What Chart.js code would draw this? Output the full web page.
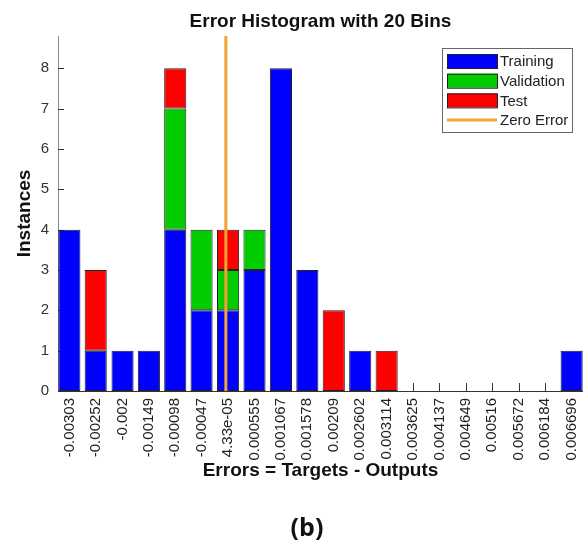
<!DOCTYPE html>
<html>
<head>
<meta charset="utf-8">
<title>Error Histogram</title>
<script src="https://cdn.jsdelivr.net/npm/chart.js@4.4.1/dist/chart.umd.min.js"></script>
<style>
	html, body { margin: 0; padding: 0; background: #fff; }
	#wrap { width: 583px; height: 547px; position: relative; }
</style>
</head>
<body>
<div id="wrap"><canvas id="main"></canvas></div>
<script>
// bin centers (error value) and the labels printed under each bin
var binCenters = [-0.00303, -0.00252, -0.002, -0.00149, -0.00098, -0.00047, 0.0000433, 0.000555, 0.001067, 0.001578,
	0.00209, 0.002602, 0.003114, 0.003625, 0.004137, 0.004649, 0.00516, 0.005672, 0.006184, 0.006696];
var tickLabels = ['-0.00303', '-0.00252', '-0.002', '-0.00149', '-0.00098', '-0.00047', '4.33e-05', '0.000555', '0.001067', '0.001578',
	'0.00209', '0.002602', '0.003114', '0.003625', '0.004137', '0.004649', '0.00516', '0.005672', '0.006184', '0.006696'];

// instances per bin
var training   = [4, 1, 1, 1, 4, 2, 2, 3, 8, 3, 0, 1, 0, 0, 0, 0, 0, 0, 0, 1];
var validation = [0, 0, 0, 0, 3, 2, 1, 1, 0, 0, 0, 0, 0, 0, 0, 0, 0, 0, 0, 0];
var test       = [0, 2, 0, 0, 1, 0, 1, 0, 0, 0, 2, 0, 1, 0, 0, 0, 0, 0, 0, 0];

var zeroError = 0;
var yTicks = [0, 1, 2, 3, 4, 5, 6, 7, 8];

var FONT = '"Liberation Sans", Arial, sans-serif';
var binStep = (binCenters[binCenters.length - 1] - binCenters[0]) / (binCenters.length - 1);

function toPoints(values){
	var pts = [];
	for (var i = 0; i < values.length; i++){
		pts.push({x: binCenters[i], y: values[i] === 0 ? null : values[i]});
	}
	return pts;
}

var legendItems = [
	{label: 'Training', color: '#0000ff', type: 'box'},
	{label: 'Validation', color: '#00cc00', type: 'box'},
	{label: 'Test', color: '#ff0000', type: 'box'},
	{label: 'Zero Error', color: '#f4a233', type: 'line'}
];

// inward tick marks (under the bars), then zero line, legend box and figure tag on top
var overlay = {
	id: 'overlay',
	beforeDatasetsDraw: function(chart){
		var ctx = chart.ctx,
			area = chart.chartArea,
			xs = chart.scales.x,
			ys = chart.scales.y;
		ctx.save();
		ctx.strokeStyle = '#333';
		ctx.lineWidth = 1;
		ctx.beginPath();
		for (var i = 0; i < yTicks.length; i++){
			var ty = Math.round(ys.getPixelForValue(yTicks[i])) + 0.5;
			ctx.moveTo(area.left, ty);
			ctx.lineTo(area.left + 6, ty);
		}
		for (var j = 0; j < binCenters.length; j++){
			var tx = Math.round(xs.getPixelForValue(binCenters[j])) + 0.5;
			ctx.moveTo(tx, area.bottom);
			ctx.lineTo(tx, area.bottom - 8);
		}
		ctx.stroke();
		ctx.restore();
	},
	afterDatasetsDraw: function(chart){
		var ctx = chart.ctx,
			area = chart.chartArea,
			xs = chart.scales.x;

		// zero error line
		var zx = xs.getPixelForValue(zeroError);
		ctx.save();
		ctx.strokeStyle = '#f4a233';
		ctx.lineWidth = 3;
		ctx.beginPath();
		ctx.moveTo(zx, area.top);
		ctx.lineTo(zx, area.bottom);
		ctx.stroke();
		ctx.restore();

		// legend
		var lx = 442, ly = 48, lw = 130, lh = 84;
		ctx.save();
		ctx.fillStyle = '#fff';
		ctx.fillRect(lx, ly, lw, lh);
		ctx.strokeStyle = '#666';
		ctx.lineWidth = 1;
		ctx.strokeRect(lx + 0.5, ly + 0.5, lw, lh);
		ctx.font = '15px ' + FONT;
		ctx.textBaseline = 'middle';
		for (var k = 0; k < legendItems.length; k++){
			var item = legendItems[k];
			var cy = ly + 13 + k * 19.7;
			if (item.type === 'box'){
				ctx.fillStyle = item.color;
				ctx.fillRect(lx + 5, cy - 7, 50, 14);
				ctx.strokeStyle = '#222';
				ctx.strokeRect(lx + 5.5, cy - 6.5, 50, 14);
			}else{
				ctx.strokeStyle = item.color;
				ctx.lineWidth = 3;
				ctx.beginPath();
				ctx.moveTo(lx + 5, cy);
				ctx.lineTo(lx + 55, cy);
				ctx.stroke();
				ctx.lineWidth = 1;
			}
			ctx.fillStyle = '#222';
			ctx.fillText(item.label, lx + 58, cy + 1);
		}
		ctx.restore();

		// figure tag
		ctx.save();
		ctx.fillStyle = '#111';
		ctx.font = 'bold 25px "Open Sans", "Noto Sans", sans-serif';
		ctx.textAlign = 'center';
		ctx.textBaseline = 'middle';
		ctx.fillText('(b)', 307, 529);
		ctx.restore();
	}
};

var ctx = document.getElementById('main').getContext('2d');

var chart = new Chart(ctx, {
	type: 'bar',
	data: {
		datasets: [
			{label: 'Training', data: toPoints(training), backgroundColor: '#0000ff'},
			{label: 'Validation', data: toPoints(validation), backgroundColor: '#00cc00'},
			{label: 'Test', data: toPoints(test), backgroundColor: '#ff0000'}
		]
	},
	options: {
		responsive: true,
		maintainAspectRatio: false,
		animation: false,
		layout: {padding: {left: 0, right: 0, top: 0, bottom: 0}},
		datasets: {
			bar: {
				borderColor: '#222',
				borderWidth: 1,
				borderSkipped: false,
				categoryPercentage: 1,
				barPercentage: 0.84
			}
		},
		plugins: {
			legend: {display: false},
			tooltip: {enabled: false},
			title: {
				display: true,
				text: 'Error Histogram with 20 Bins',
				fullSize: false,
				color: '#111',
				font: {family: FONT, size: 19, weight: 'bold'},
				padding: {top: 10, bottom: 3.2}
			}
		},
		scales: {
			x: {
				type: 'linear',
				stacked: true,
				offset: false,
				min: binCenters[0] - 0.43 * binStep,
				max: binCenters[binCenters.length - 1] + 0.43 * binStep,
				afterBuildTicks: function(scale){
					scale.ticks = binCenters.map(function(v){ return {value: v}; });
				},
				afterFit: function(scale){
					scale.height = 156;
					scale.paddingLeft = 0;
					scale.paddingRight = 0;
				},
				grid: {display: false, drawTicks: false},
				border: {display: true, color: '#333', width: 1},
				ticks: {
					autoSkip: false,
					minRotation: 90,
					maxRotation: 90,
					padding: 7,
					color: '#222',
					font: {family: FONT, size: 15},
					callback: function(value, index){
						return tickLabels[index];
					}
				},
				title: {
					display: true,
					text: 'Errors = Targets - Outputs',
					color: '#111',
					font: {family: FONT, size: 19, weight: 'bold'},
					padding: {top: 0, bottom: 64.6}
				}
			},
			y: {
				stacked: true,
				min: 0,
				max: 8.8,
				afterFit: function(scale){
					scale.width = 58;
					scale.paddingTop = 0;
					scale.paddingBottom = 0;
				},
				grid: {display: false, drawTicks: false},
				border: {display: true, color: '#888', width: 1},
				ticks: {
					stepSize: 1,
					includeBounds: false,
					padding: 9,
					color: '#333',
					font: {family: FONT, size: 15}
				},
				title: {
					display: true,
					text: 'Instances',
					color: '#111',
					font: {family: FONT, size: 19, weight: 'bold'},
					padding: {top: 13, bottom: 0}
				}
			}
		}
	},
	plugins: [overlay]
});
</script>
</body>
</html>
